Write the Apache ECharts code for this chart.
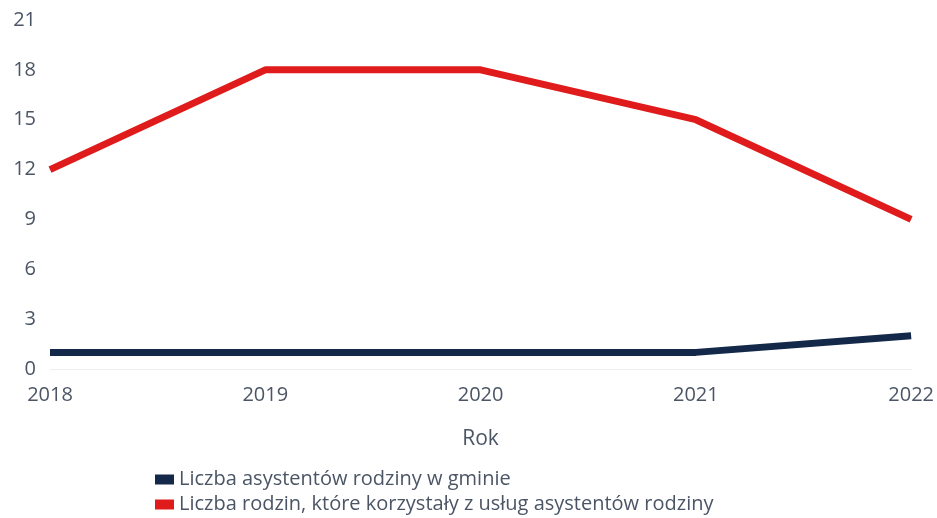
<!DOCTYPE html>
<html><head><meta charset="utf-8">
<script src="https://cdn.jsdelivr.net/npm/echarts@6/dist/echarts.min.js"></script>
<style>html,body{margin:0;padding:0;background:#fff}#c{width:937px;height:518px}</style>
</head><body><div id="c"></div>
<script>
var years = ['2018','2019','2020','2021','2022'];
var asystenci = [1, 1, 1, 1, 2];
var rodziny = [12, 18, 18, 15, 9];
var yTicks = [0, 3, 6, 9, 12, 15, 18, 21];
var seriesNames = ['Liczba asystentów rodziny w gminie', 'Liczba rodzin, które korzystały z usług asystentów rodziny'];
var txt = '#4b5565';
var chart = echarts.init(document.getElementById('c'));
chart.setOption({
  animation: false,
  textStyle: {fontFamily: 'Open Sans'},
  grid: {left: 50, right: 25, top: 20, bottom: 149},
  xAxis: {
    type: 'category', data: years, boundaryGap: false,
    name: 'Rok', nameLocation: 'middle', nameGap: 60,
    nameTextStyle: {color: txt, fontSize: 21},
    axisLine: {show: true, lineStyle: {color: '#eeeeee', width: 1}},
    axisTick: {show: false},
    axisLabel: {color: txt, fontSize: 20, margin: 16}
  },
  yAxis: {
    type: 'value', min: 0, max: 21, interval: 3,
    axisLine: {show: false}, axisTick: {show: false},
    splitLine: {show: false},
    axisLabel: {color: txt, fontSize: 20, margin: 14}
  },
  legend: {
    orient: 'vertical', left: 155, top: 467, itemGap: 0, padding: 0,
    height: 80, width: 700,
    itemWidth: 19, itemHeight: 10, icon: 'rect',
    textStyle: {color: txt, fontSize: 20, lineHeight: 25},
    data: seriesNames
  },
  series: [
    {name: seriesNames[0], type: 'line', data: asystenci, symbol: 'none',
     lineStyle: {color: '#14294a', width: 7}, itemStyle: {color: '#14294a'}},
    {name: seriesNames[1], type: 'line', data: rodziny, symbol: 'none',
     lineStyle: {color: '#e01b1b', width: 7}, itemStyle: {color: '#e01b1b'}}
  ]
});
</script></body></html>
